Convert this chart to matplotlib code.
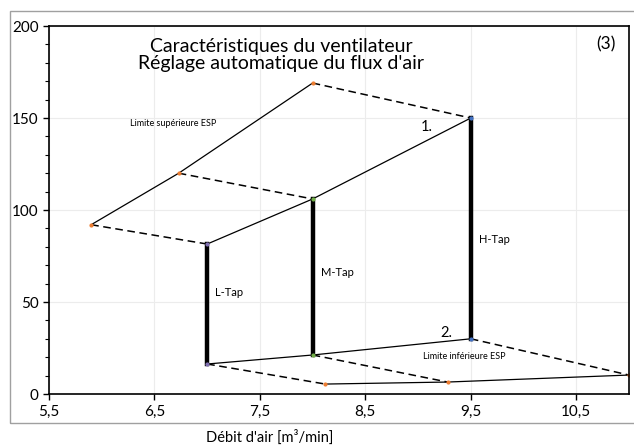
import matplotlib.pyplot as plt
import matplotlib.ticker as mticker
from matplotlib.patches import Rectangle

plt.rcParams["font.family"] = ["Lato", "DejaVu Sans"]

# upper ESP limit (solid curve) and lower ESP limit
upper_x = [5.9, 6.73, 8.0]
upper_y = [92, 120, 169]
lower_x = [8.12, 9.28, 11.0]
lower_y = [5.4, 6.5, 10.3]

# tap points: top (max ESP) and bottom (min ESP)
tap_x = [7.0, 8.0, 9.5]
tap_top = [81.5, 106, 150]
tap_bot = [16.3, 21.2, 30]
tap_names = ["L-Tap", "M-Tap", "H-Tap"]
tap_colors = ["#7f6fb0", "#70ad47", "#4472c4"]

xticks = [5.5, 6.5, 7.5, 8.5, 9.5, 10.5]
xticklabels = ["5,5", "6,5", "7,5", "8,5", "9,5", "10,5"]
yticks = [0, 50, 100, 150, 200]

fig = plt.figure(figsize=(6.34, 4.45), dpi=100)
fig.patches.append(Rectangle((10 / 634, 22 / 445), 1.0, 412 / 445,
                             transform=fig.transFigure, fill=False,
                             edgecolor="#a0a0a0", lw=1.0))
ax = fig.add_axes([49 / 634, 51 / 445, 580 / 634, 368 / 445])

ax.set_xlim(5.5, 11.0)
ax.set_ylim(0, 200)
ax.set_xticks(xticks)
ax.set_xticklabels(xticklabels)
ax.set_yticks(yticks)
ax.yaxis.set_minor_locator(mticker.MultipleLocator(10))
ax.tick_params(axis="both", labelsize=11, length=4, width=1, direction="out")
ax.tick_params(axis="y", which="minor", length=3, width=0.8)
ax.grid(True, color="#ececec", lw=0.8)
ax.set_axisbelow(True)
for s in ax.spines.values():
    s.set_color("black")
    s.set_linewidth(1.2)

# solid limit curves
ax.plot(upper_x, upper_y, color="black", lw=0.9)
ax.plot(tap_x, tap_top, color="black", lw=0.9)
ax.plot(tap_x, tap_bot, color="black", lw=0.9)
ax.plot(lower_x, lower_y, color="black", lw=0.9)

# dashed links between curves
for i in range(3):
    ax.plot([upper_x[i], tap_x[i]], [upper_y[i], tap_top[i]],
            color="black", lw=1.1, ls=(0, (5, 3)))
    ax.plot([tap_x[i], lower_x[i]], [tap_bot[i], lower_y[i]],
            color="black", lw=1.1, ls=(0, (5, 3)))

# thick vertical tap lines
for i in range(3):
    ax.plot([tap_x[i], tap_x[i]], [tap_bot[i], tap_top[i]], color="black", lw=3.2)
    ax.plot([tap_x[i]] * 2, [tap_top[i], tap_bot[i]], ls="none", marker="o",
            ms=2, color=tap_colors[i])

ax.plot(upper_x, upper_y, ls="none", marker="o", ms=2, color="#ed7d31")
ax.plot(lower_x, lower_y, ls="none", marker="o", ms=2, color="#ed7d31")

# labels
ax.text(7.07, 55, tap_names[0], fontsize=8, va="center")
ax.text(8.08, 66, tap_names[1], fontsize=8, va="center")
ax.text(9.58, 84, tap_names[2], fontsize=8, va="center")
ax.text(9.08, 145, "1.", fontsize=10.5, ha="center", va="center")
ax.text(9.27, 33, "2.", fontsize=10.5, ha="center", va="center")
ax.text(6.68, 147, "Limite supérieure ESP", fontsize=6.5, ha="center", va="center")
ax.text(9.44, 20.5, "Limite inférieure ESP", fontsize=6.5, ha="center", va="center")
ax.text(7.70, 184.5, "Caractéristiques du ventilateur\nRéglage automatique du flux d'air",
        fontsize=14, ha="center", va="center", linespacing=1.0)
ax.text(10.87, 190, "(3)", fontsize=12.5, ha="right", va="center")

fig.text(270 / 634, 8 / 445, "Débit d'air [m³/min]", fontsize=10.5, ha="center", va="center")

fig.savefig("out.png", dpi=100)
